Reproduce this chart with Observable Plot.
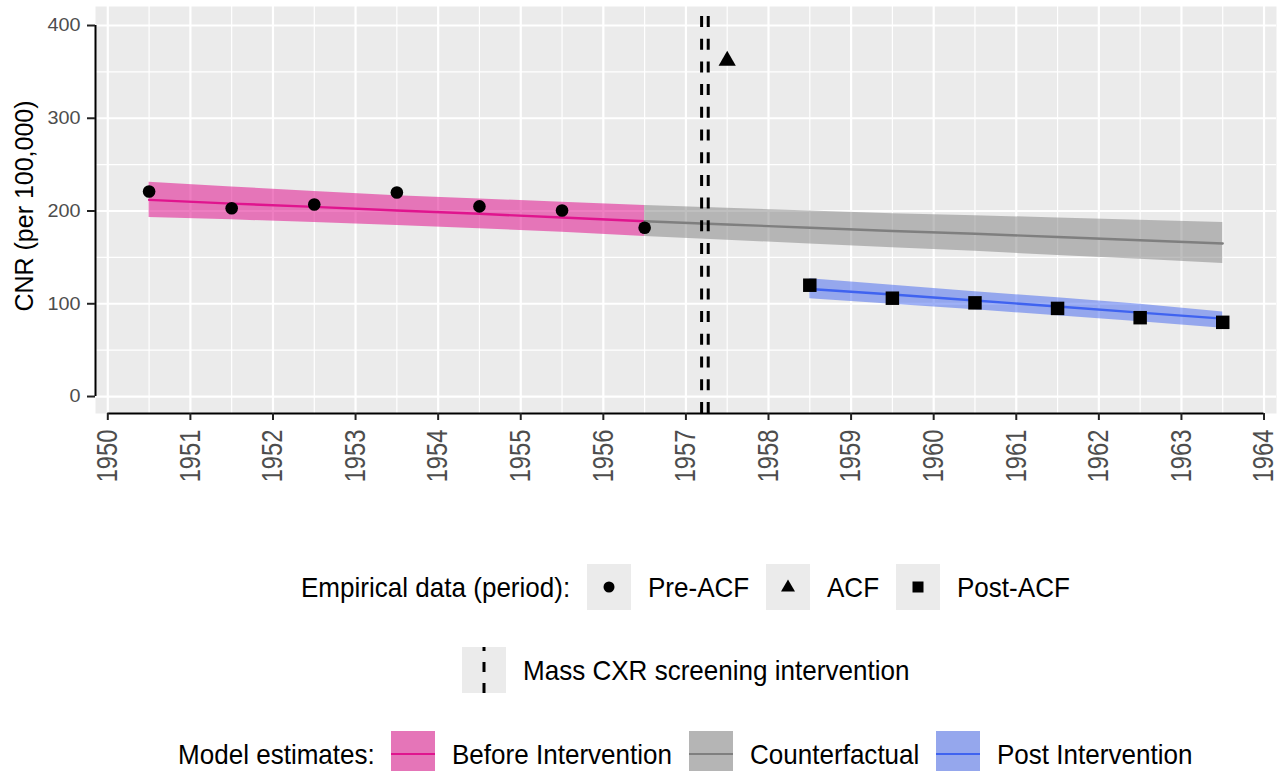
<!DOCTYPE html>
<html><head><meta charset="utf-8">
<script src="https://cdn.jsdelivr.net/npm/d3@7"></script>
<script src="https://cdn.jsdelivr.net/npm/@observablehq/plot@0.6"></script>
<style>
body{margin:0;background:#fff;font-family:"Liberation Sans",Arial,Helvetica,sans-serif;}
#wrap{position:relative;width:1285px;height:771px;overflow:hidden;}
#legend{position:absolute;left:95px;width:1181px;top:0;height:771px;}
.row{position:absolute;left:0;width:100%;display:flex;justify-content:center;align-items:center;height:46px;}
.key{width:44px;height:46px;flex:none;display:block}
.txt{flex:none;display:block;overflow:visible}
.g16{width:16px;flex:none}
.g17{width:17px;flex:none}
</style></head>
<body><div id="wrap"><div id="chart"></div><div id="legend"></div></div>
<script>
// ---- data ----
const preYears  = [1950.5, 1951.5, 1952.5, 1953.5, 1954.5, 1955.5, 1956.5];
const preValues = [221, 203, 207, 220, 205, 200.5, 182];
const acfYears  = [1957.5];
const acfValues = [362];
const postYears = [1958.5, 1959.5, 1960.5, 1961.5, 1962.5, 1963.5];
const postValues = [120, 106, 101, 95, 85, 80];

const preFitYears = [1950.5, 1951.5, 1952.5, 1953.5, 1954.5, 1955.5, 1956.5];
const preFitEst   = [212, 208, 204.5, 200.5, 197, 193, 189];
const preFitLo    = [193, 190.5, 187.5, 184.5, 181, 177, 172.5];
const preFitHi    = [231, 226, 221, 216.5, 213, 209.5, 206];

const cfYears = [1956.5, 1957.5, 1958.5, 1959.5, 1960.5, 1961.5, 1962.5, 1963.5];
const cfEst   = [189, 185.5, 182, 178.5, 175.5, 172, 168.5, 165];
const cfLo    = [172.5, 168.5, 164.5, 160.5, 156.5, 152, 148, 143.5];
const cfHi    = [206, 203, 200, 197, 195, 192.5, 190, 187.5];

const postFitYears = [1958.5, 1959.5, 1960.5, 1961.5, 1962.5, 1963.5];
const postFitEst   = [116, 110, 103.5, 97, 90.5, 84];
const postFitLo    = [105.5, 99.5, 93.5, 87, 80.5, 73.5];
const postFitHi    = [127, 120, 113, 106.5, 99.5, 91];

const interventionDates = [1957.19, 1957.27];

const xTicks = [1950,1951,1952,1953,1954,1955,1956,1957,1958,1959,1960,1961,1962,1963,1964];
const xMinor = [1950.5,1951.5,1952.5,1953.5,1954.5,1955.5,1956.5,1957.5,1958.5,1959.5,1960.5,1961.5,1962.5,1963.5];
const yTicks = [0,100,200,300,400];
const yMinor = [50,150,250,350];

const yLabel = "CNR (per 100,000)";
const periodTitle = "Empirical data (period):";
const periodLabels = ["Pre-ACF", "ACF", "Post-ACF"];
const vlineLabel = "Mass CXR screening intervention";
const modelTitle = "Model estimates:";
const modelLabels = ["Before Intervention", "Counterfactual", "Post Intervention"];

// ---- styles ----
const PINK = "#E0148E", GREY = "#7F7F7F", BLUE = "#3F63F0";
const RIB_OP = 0.55;
const FONT = "'Liberation Sans', Arial, Helvetica, sans-serif";

const zip = (xs, ...cols) => xs.map((x, i) => ({x, a: cols[0]?.[i], b: cols[1]?.[i], c: cols[2]?.[i]}));
const pre = zip(preYears, preValues);
const acf = zip(acfYears, acfValues);
const post = zip(postYears, postValues);
const preFit = zip(preFitYears, preFitEst, preFitLo, preFitHi);
const cf = zip(cfYears, cfEst, cfLo, cfHi);
const postFit = zip(postFitYears, postFitEst, postFitLo, postFitHi);

const H = 520;
const xDomain = [1949.851, 1964.151];
const yDomain = [-18.3, 420.5];

const chart = Plot.plot({
  width: 1285, height: H,
  marginLeft: 95, marginRight: 9, marginTop: 6, marginBottom: H - 413,
  x: {domain: xDomain, axis: null},
  y: {domain: yDomain, axis: null},
  style: {fontFamily: FONT, background: "white", overflow: "visible"},
  marks: [
    Plot.frame({fill: "#EBEBEB", stroke: null}),
    Plot.gridY(yMinor, {stroke: "white", strokeOpacity: 1, strokeWidth: 1.2}),
    Plot.gridX(xMinor, {stroke: "white", strokeOpacity: 1, strokeWidth: 1.2}),
    Plot.gridY(yTicks, {stroke: "white", strokeOpacity: 1, strokeWidth: 2.2}),
    Plot.gridX(xTicks, {stroke: "white", strokeOpacity: 1, strokeWidth: 2.2}),
    Plot.areaY(preFit, {x: "x", y1: "b", y2: "c", fill: PINK, fillOpacity: RIB_OP}),
    Plot.areaY(cf, {x: "x", y1: "b", y2: "c", fill: GREY, fillOpacity: 0.5}),
    Plot.areaY(postFit, {x: "x", y1: "b", y2: "c", fill: BLUE, fillOpacity: 0.5}),
    Plot.line(preFit, {x: "x", y: "a", stroke: PINK, strokeWidth: 2.4}),
    Plot.line(cf, {x: "x", y: "a", stroke: GREY, strokeWidth: 2.4}),
    Plot.line(postFit, {x: "x", y: "a", stroke: BLUE, strokeWidth: 2.4}),
    Plot.ruleX(interventionDates, {stroke: "black", strokeWidth: 3, strokeDasharray: "11,11.7", strokeDashoffset: 12.7}),
    Plot.dot(pre, {x: "x", y: "a", r: 6.3, fill: "black", symbol: "circle", stroke: null}),
    Plot.dot(acf, {x: "x", y: "a", r: 6.4, fill: "black", symbol: "triangle", stroke: null}),
    Plot.dot(post, {x: "x", y: "a", r: 7.6, fill: "black", symbol: "square", stroke: null}),
    Plot.ruleX([xDomain[0]], {y1: 0, y2: 400, stroke: "black", strokeWidth: 2}),
    Plot.ruleY([yDomain[0]], {x1: 1950, x2: 1964, stroke: "black", strokeWidth: 2}),
    Plot.axisY(yTicks, {anchor: "left", tickSize: 8, tickPadding: 7, fontSize: 18, fill: "#4D4D4D", stroke: "#222", strokeWidth: 2, label: null}),
    Plot.axisX(xTicks, {anchor: "bottom", tickSize: 7, tickPadding: 9, tickRotate: -90, tickFormat: d => String(d), fontSize: 29, fill: "#4D4D4D", stroke: "#222", strokeWidth: 2, label: null}),
    Plot.text([yLabel], {frameAnchor: "left", textAnchor: "middle", rotate: -90, dx: -71, dy: -4, fontSize: 25, fill: "black"})
  ]
});
document.getElementById("chart").appendChild(chart);

// squeeze tick label glyphs along their reading direction to match the reference's narrower type
function squeeze(sel, sx) {
  d3.select(chart).selectAll(sel).each(function() {
    const t = this.getAttribute("transform") || "";
    this.setAttribute("transform", t + ` scale(${sx},1)`);
  });
}
squeeze('[aria-label="x-axis tick label"] text', 0.82);
squeeze('[aria-label="y-axis tick label"] text', 1.1);

// ---- legend ----
const legend = document.getElementById("legend");
const NS = "http://www.w3.org/2000/svg";
const LFS = 28, LSQ = 0.93;
function keySvg(draw) {
  const s = document.createElementNS(NS, "svg");
  s.setAttribute("class", "key"); s.setAttribute("width", 44); s.setAttribute("height", 46);
  s.innerHTML = `<rect width="44" height="46" fill="#EBEBEB"/>` + draw;
  return s;
}
function gap(cls) { const d = document.createElement("div"); d.className = cls; return d; }
function textSvg(str, row) {
  const s = document.createElementNS(NS, "svg");
  s.setAttribute("class", "txt"); s.setAttribute("height", 46); s.setAttribute("width", 10);
  const t = document.createElementNS(NS, "text");
  t.setAttribute("x", 0); t.setAttribute("y", 23);
  t.setAttribute("dominant-baseline", "central");
  t.setAttribute("font-family", FONT); t.setAttribute("font-size", LFS); t.setAttribute("fill", "black");
  t.textContent = str;
  s.appendChild(t);
  row.appendChild(s);
  const len = t.getComputedTextLength() * LSQ;
  t.setAttribute("textLength", len); t.setAttribute("lengthAdjust", "spacingAndGlyphs");
  s.setAttribute("width", Math.ceil(len));
  return s;
}
function row(top, title, items) {
  const r = document.createElement("div"); r.className = "row"; r.style.top = top + "px";
  legend.appendChild(r);
  if (title) { textSvg(title, r); r.appendChild(gap("g16")); }
  items.forEach((it, i) => {
    if (i > 0) r.appendChild(gap("g16"));
    r.appendChild(keySvg(it.svg));
    r.appendChild(gap("g17"));
    textSvg(it.label, r);
  });
}
const sym = [
  `<circle cx="22" cy="23" r="5.5" fill="black"/>`,
  `<path d="M22,15.5 L29,27.5 L15,27.5 Z" fill="black"/>`,
  `<rect x="16.5" y="17.5" width="11" height="11" fill="black"/>`
];
row(564, periodTitle, periodLabels.map((l, i) => ({label: l, svg: sym[i]})));
row(647, null, [{label: vlineLabel, svg: `<line x1="22" x2="22" y1="0" y2="46" stroke="black" stroke-width="3" stroke-dasharray="10,11" stroke-dashoffset="6"/>`}]);
const mcols = [PINK, GREY, BLUE];
row(731, modelTitle, modelLabels.map((l, i) => ({label: l, svg:
  `<rect width="44" height="46" fill="${mcols[i]}" fill-opacity="${i === 0 ? RIB_OP : 0.5}"/><line x1="0" x2="44" y1="23" y2="23" stroke="${mcols[i]}" stroke-width="2.2"/>`})));
</script></body></html>
